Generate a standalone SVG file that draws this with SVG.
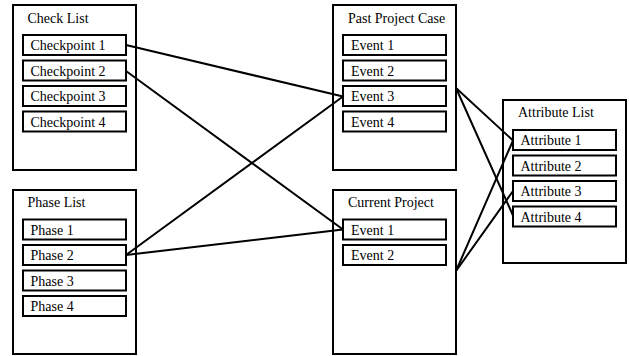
<svg xmlns="http://www.w3.org/2000/svg" width="629" height="356" viewBox="0 0 629 356">
  <style>
    .outer { fill: #ffffff; stroke: #000000; stroke-width: 2; }
    .item { fill: #ffffff; stroke: #000000; stroke-width: 2; }
    .title, .label { font-family: "Liberation Serif", "Times New Roman", serif; font-size: 14px; fill: #000000; }
    .link { stroke: #000000; stroke-width: 2; fill: none; stroke-linecap: round; }
  </style>
  <rect width="629" height="356" fill="#ffffff"/>

  <!-- list panels -->
  <g id="check-list">
    <rect class="outer" x="13" y="5" width="123" height="165"/>
    <text class="title" x="27.5" y="23">Check List</text>
    <rect class="item" x="23" y="35" width="103" height="20"/>
    <text class="label" x="30.5" y="50">Checkpoint 1</text>
    <rect class="item" x="23" y="60.5" width="103" height="20"/>
    <text class="label" x="30.5" y="75.5">Checkpoint 2</text>
    <rect class="item" x="23" y="86" width="103" height="20"/>
    <text class="label" x="30.5" y="101">Checkpoint 3</text>
    <rect class="item" x="23" y="111.5" width="103" height="20"/>
    <text class="label" x="30.5" y="126.5">Checkpoint 4</text>
  </g>

  <g id="phase-list">
    <rect class="outer" x="13" y="190" width="123" height="164"/>
    <text class="title" x="27.5" y="207">Phase List</text>
    <rect class="item" x="23" y="219.5" width="103" height="20"/>
    <text class="label" x="30.5" y="234.5">Phase 1</text>
    <rect class="item" x="23" y="245" width="103" height="20"/>
    <text class="label" x="30.5" y="260">Phase 2</text>
    <rect class="item" x="23" y="270.5" width="103" height="20"/>
    <text class="label" x="30.5" y="285.5">Phase 3</text>
    <rect class="item" x="23" y="296" width="103" height="20"/>
    <text class="label" x="30.5" y="311">Phase 4</text>
  </g>

  <g id="past-project-case">
    <rect class="outer" x="333" y="5" width="123" height="165"/>
    <text class="title" x="348" y="23">Past Project Case</text>
    <rect class="item" x="343" y="35" width="103" height="20"/>
    <text class="label" x="351" y="50">Event 1</text>
    <rect class="item" x="343" y="60.5" width="103" height="20"/>
    <text class="label" x="351" y="75.5">Event 2</text>
    <rect class="item" x="343" y="86" width="103" height="20"/>
    <text class="label" x="351" y="101">Event 3</text>
    <rect class="item" x="343" y="111.5" width="103" height="20"/>
    <text class="label" x="351" y="126.5">Event 4</text>
  </g>

  <g id="current-project">
    <rect class="outer" x="333" y="190" width="123" height="164"/>
    <text class="title" x="348" y="207">Current Project</text>
    <rect class="item" x="343" y="219.5" width="103" height="20"/>
    <text class="label" x="351" y="234.5">Event 1</text>
    <rect class="item" x="343" y="245" width="103" height="20"/>
    <text class="label" x="351" y="260">Event 2</text>
  </g>

  <g id="attribute-list">
    <rect class="outer" x="503" y="100" width="123" height="163"/>
    <text class="title" x="518" y="117">Attribute List</text>
    <rect class="item" x="513" y="130" width="103" height="20"/>
    <text class="label" x="520.5" y="145">Attribute 1</text>
    <rect class="item" x="513" y="155.5" width="103" height="20"/>
    <text class="label" x="520.5" y="170.5">Attribute 2</text>
    <rect class="item" x="513" y="181" width="103" height="20"/>
    <text class="label" x="520.5" y="196">Attribute 3</text>
    <rect class="item" x="513" y="206.5" width="103" height="20"/>
    <text class="label" x="520.5" y="221.5">Attribute 4</text>
  </g>

  <!-- links between items -->
  <g id="connectors">
    <line class="link" x1="126" y1="45" x2="343" y2="96.5"/>
    <line class="link" x1="126" y1="71" x2="343" y2="229.5"/>
    <line class="link" x1="126" y1="255" x2="343" y2="96.5"/>
    <line class="link" x1="126" y1="255" x2="343" y2="229.5"/>
    <line class="link" x1="456" y1="88" x2="513" y2="140.5"/>
    <line class="link" x1="456" y1="88" x2="513" y2="215.5"/>
    <line class="link" x1="456" y1="271" x2="513" y2="140.5"/>
    <line class="link" x1="456" y1="271" x2="513" y2="191"/>
  </g>
</svg>
